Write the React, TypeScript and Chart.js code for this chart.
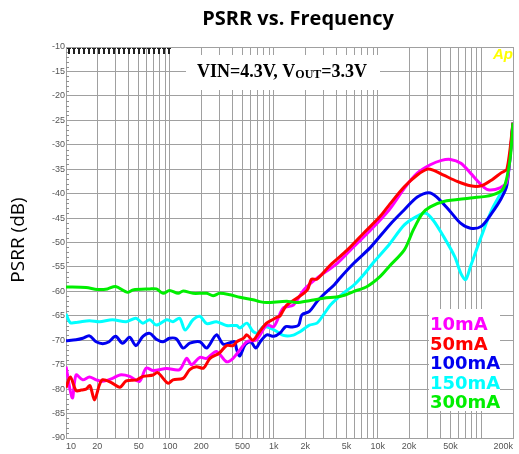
import React, { useEffect, useRef } from 'react';
import { Chart, registerables } from 'chart.js';

Chart.register(...registerables);

// ---------- Data ----------
const TITLE = 'PSRR vs. Frequency';
const Y_TITLE = 'PSRR (dB)';

const X_LABEL_VALUES = [10, 20, 50, 100, 200, 500, 1000, 2000, 5000, 10000, 20000, 50000, 200000];
const X_LABELS = ['10', '20', '50', '100', '200', '500', '1k', '2k', '5k', '10k', '20k', '50k', '200k'];

const SERIES_NAMES = ['10mA', '50mA', '100mA', '150mA', '300mA'];
const SERIES_COLORS = ['#ff00ff', '#ff0000', '#0000f0', '#00ffff', '#00ee00'];

const MAG_F = [10, 11.5, 12.5, 14.5, 16.8, 19.5, 22.6, 28, 33, 41, 51, 59, 69, 93, 124, 145, 161, 194, 226, 280, 350, 405, 470, 550, 680, 855, 1000, 1230, 1540, 1940, 2600, 4100, 5900, 8500, 13000, 18000, 24000, 32000, 41000, 50000, 63000, 78000, 99000, 115000, 150000, 175000, 200000];
const MAG_V = [-75.4, -81.8, -77.1, -78.1, -77.5, -78.1, -78.4, -77.8, -77.1, -77.4, -78.4, -75.7, -76.2, -75.8, -76.0, -73.7, -75.0, -73.5, -73.7, -72.3, -74.4, -73.7, -72.0, -70.3, -69.9, -66.9, -67.2, -63.4, -62.8, -59.7, -57.3, -54.2, -50.8, -47.5, -43.2, -38.9, -35.8, -34.1, -33.2, -33.0, -33.8, -35.8, -38.2, -39.2, -38.8, -37.5, -25.5];

const RED_F = [10, 11, 12.5, 14, 15.6, 17, 18.8, 21, 22.5, 27, 33, 38, 48, 55, 69, 76, 96, 107, 134, 155, 180, 210, 243, 300, 350, 405, 440, 510, 550, 630, 730, 850, 990, 1070, 1150, 1200, 1330, 1660, 2100, 2300, 2600, 3500, 5100, 7300, 10500, 13000, 18000, 24000, 30000, 34000, 43000, 58000, 78000, 99000, 125000, 155000, 175000, 200000];
const RED_V = [-79.7, -77.5, -80.3, -80.2, -80.0, -79.3, -82.2, -79.1, -78.1, -78.6, -79.6, -78.3, -78.1, -77.4, -77.1, -76.6, -78.8, -78.1, -77.8, -76.0, -75.4, -75.7, -73.7, -72.6, -71.1, -71.1, -70.3, -69.6, -68.9, -70.0, -68.2, -66.5, -65.7, -65.3, -65.0, -64.3, -62.8, -61.4, -59.7, -57.5, -57.5, -54.6, -51.5, -48.1, -44.7, -42.2, -38.6, -36.2, -35.0, -35.2, -36.2, -37.5, -38.4, -38.4, -37.2, -35.7, -35.0, -25.5];

const BLUE_F = [10, 12.5, 14.5, 16.8, 19.5, 22.6, 26, 30, 35, 41, 47, 55, 64, 74, 86, 99, 115, 134, 155, 194, 226, 280, 325, 380, 420, 440, 470, 530, 600, 670, 740, 855, 1000, 1150, 1300, 1500, 1730, 1860, 2200, 2600, 3000, 3800, 4400, 5900, 8500, 13000, 18000, 24000, 31000, 37000, 50000, 63000, 78000, 99000, 125000, 155000, 175000, 200000];
const BLUE_V = [-70.1, -69.9, -69.6, -69.1, -70.3, -70.7, -70.3, -69.2, -70.6, -69.4, -71.1, -69.2, -68.6, -69.8, -70.3, -69.6, -69.7, -71.6, -70.6, -70.3, -71.6, -68.9, -70.8, -70.5, -70.3, -72.0, -73.2, -70.9, -70.3, -71.6, -70.3, -68.9, -69.2, -68.5, -67.2, -67.3, -66.9, -64.8, -64.1, -62.1, -60.7, -58.7, -57.1, -54.2, -51.0, -46.4, -43.3, -40.7, -39.8, -40.7, -43.7, -46.1, -47.1, -46.7, -44.0, -40.9, -38.2, -25.5];

const CYAN_F = [10, 11, 13, 16.8, 21, 28, 38, 47, 55, 64, 74, 93, 107, 124, 140, 167, 194, 226, 280, 350, 440, 470, 550, 630, 700, 790, 920, 1070, 1230, 1500, 1800, 2000, 2200, 2600, 3000, 3500, 4100, 4900, 5900, 7300, 9000, 13000, 18000, 24000, 29000, 34000, 43000, 55000, 63000, 70000, 78000, 99000, 125000, 155000, 175000, 200000];
const CYAN_V = [-64.6, -66.4, -66.3, -66.0, -66.2, -65.8, -66.2, -65.5, -66.5, -65.8, -66.9, -65.8, -66.2, -65.5, -67.9, -65.8, -65.1, -66.6, -66.2, -67.0, -67.0, -67.5, -66.5, -68.2, -68.5, -67.2, -67.5, -68.2, -69.0, -69.0, -68.2, -67.5, -66.9, -66.5, -64.8, -62.8, -61.4, -60.0, -58.7, -56.6, -54.2, -50.3, -46.4, -44.6, -44.0, -45.4, -48.8, -52.9, -56.3, -57.6, -54.9, -48.8, -43.3, -39.6, -37.2, -26.0];

const GREEN_F = [10, 15.6, 20, 25, 30, 39, 44, 64, 74, 86, 99, 120, 134, 167, 226, 260, 300, 380, 470, 630, 730, 855, 1330, 1660, 2200, 3000, 4400, 5900, 7900, 10500, 13000, 18000, 22000, 27000, 32000, 43000, 78000, 125000, 162000, 187000, 200000];
const GREEN_V = [-59.1, -59.2, -59.6, -59.5, -59.0, -60.2, -59.7, -59.5, -59.5, -60.4, -59.8, -60.4, -59.9, -60.4, -60.4, -60.9, -60.4, -60.7, -61.2, -61.7, -62.1, -62.3, -62.0, -62.3, -61.9, -61.4, -61.0, -60.0, -59.0, -57.0, -54.8, -51.5, -47.4, -44.0, -42.7, -41.6, -40.9, -40.3, -38.9, -33.1, -25.5];

const Y_MIN = -90;
const Y_MAX = -10;
const X_MIN = 10;
const X_MAX = 200000;

function pts(f: number[], v: number[]) {
  return f.map((x, i) => ({ x, y: v[i] }));
}

function gridValues(): number[] {
  const out: number[] = [];
  for (let d = 10; d <= X_MAX; d *= 10) {
    for (let m = 1; m <= 9; m++) {
      const v = m * d;
      if (v >= X_MIN && v <= X_MAX) out.push(v);
    }
  }
  return out;
}

const decor = {
  id: 'decor',
  beforeDatasetsDraw(chart: any) {
    const ctx = chart.ctx;
    const area = chart.chartArea;
    const ys = chart.scales.y;
    ctx.save();
    // white boxes (annotation + legend) covering grid
    ctx.fillStyle = '#ffffff';
    ctx.fillRect(186, 55, 194, 35);
    ctx.fillRect(429, 309, 71, 102);
    // minor y ticks
    ctx.strokeStyle = '#909090';
    ctx.lineWidth = 1;
    for (let v = Y_MIN + 1; v < Y_MAX; v++) {
      if (v % 5 === 0) continue;
      const py = Math.round(ys.getPixelForValue(v)) + 0.5;
      ctx.beginPath();
      ctx.moveTo(area.left, py);
      ctx.lineTo(area.left + 3, py);
      ctx.stroke();
    }
    // dark tick stubs along the top-left edge
    ctx.fillStyle = '#222';
    const stubEnd = chart.scales.x.getPixelForValue(100);
    for (let px = area.left + 2; px <= stubEnd; px += 5) {
      ctx.fillRect(Math.round(px), area.top + 1, 2, 6);
      ctx.fillRect(Math.round(px) - 1, area.top + 1, 4, 1);
    }
    ctx.restore();
  },
  afterDraw(chart: any) {
    const ctx = chart.ctx;
    ctx.save();
    ctx.fillStyle = '#000';
    // title
    ctx.font = 'bold 20px "Open Sans"';
    ctx.textAlign = 'center';
    ctx.textBaseline = 'alphabetic';
    ctx.fillText(TITLE, 298, 25);
    // y title
    ctx.save();
    ctx.translate(24, 240);
    ctx.rotate(-Math.PI / 2);
    ctx.font = '19px "Open Sans"';
    ctx.textAlign = 'center';
    ctx.fillText(Y_TITLE, 0, 0);
    ctx.restore();
    // annotation
    const parts: [string, number, number][] = [
      ['VIN=4.3V, V', 18, 0],
      ['OUT', 12, 1],
      ['=3.3V', 18, 0],
    ];
    let total = 0;
    for (const [t, s] of parts) {
      ctx.font = `bold ${s}px "Liberation Serif"`;
      total += ctx.measureText(t).width;
    }
    let x = 282 - total / 2;
    ctx.textAlign = 'left';
    for (const [t, s, dy] of parts) {
      ctx.font = `bold ${s}px "Liberation Serif"`;
      ctx.fillText(t, x, 77 + dy);
      x += ctx.measureText(t).width;
    }
    // Ap
    ctx.fillStyle = '#ffff00';
    ctx.font = 'italic bold 15px "Liberation Sans"';
    ctx.fillText('Ap', 493, 59);
    // legend
    ctx.font = 'bold 18px "DejaVu Sans"';
    SERIES_NAMES.forEach((n, i) => {
      ctx.fillStyle = SERIES_COLORS[i];
      ctx.fillText(n, 430, 330 + i * 19.5);
    });
    ctx.restore();
  },
};

export default function App() {
  const ref = useRef<HTMLCanvasElement | null>(null);
  useEffect(() => {
    if (!ref.current) return;
    const grid = gridValues();
    const mk = (f: number[], v: number[], i: number) => ({
      label: SERIES_NAMES[i],
      data: pts(f, v),
      borderColor: SERIES_COLORS[i],
      backgroundColor: SERIES_COLORS[i],
      borderWidth: 3,
      pointRadius: 0,
      tension: 0.3,
      fill: false,
    });
    const chart = new Chart(ref.current, {
      type: 'line',
      data: {
        datasets: [
          mk(GREEN_F, GREEN_V, 4),
          mk(RED_F, RED_V, 1),
          mk(MAG_F, MAG_V, 0),
          mk(BLUE_F, BLUE_V, 2),
          mk(CYAN_F, CYAN_V, 3),
        ],
      },
      options: {
        animation: false,
        responsive: true,
        maintainAspectRatio: false,
        layout: { padding: { top: 47, right: 6, bottom: 0, left: 0 } },
        plugins: {
          legend: { display: false },
          title: { display: false },
          tooltip: { enabled: false },
        },
        scales: {
          x: {
            type: 'logarithmic',
            min: X_MIN,
            max: X_MAX,
            afterBuildTicks: (s: any) => {
              s.ticks = grid.map((v) => ({ value: v }));
            },
            afterFit: (s: any) => {
              s.height = 16;
            },
            ticks: {
              autoSkip: false,
              maxRotation: 0,
              minRotation: 0,
              align: 'inner',
              padding: 3,
              color: '#555',
              font: { size: 9, family: '"Liberation Sans"' },
              callback: (value: any) => {
                const idx = X_LABEL_VALUES.findIndex((v) => Math.abs(v - Number(value)) < 1e-6 * v);
                return idx >= 0 ? X_LABELS[idx] : '';
              },
            },
            grid: { color: '#a0a0a0', lineWidth: 1, drawTicks: false },
            border: { color: '#a0a0a0' },
          },
          y: {
            type: 'linear',
            min: Y_MIN,
            max: Y_MAX,
            afterFit: (s: any) => {
              s.width = 66;
            },
            ticks: {
              stepSize: 5,
              padding: 1,
              color: '#555',
              font: { size: 9, family: '"Liberation Sans"' },
            },
            grid: { color: '#a0a0a0', lineWidth: 1, drawTicks: false },
            border: { color: '#a0a0a0' },
          },
        },
      },
      plugins: [decor],
    } as any);
    return () => chart.destroy();
  }, []);
  return (
    <div style={{ position: 'fixed', left: 0, top: 0, width: 519, height: 454, background: '#fff' }}>
      <canvas ref={ref} />
    </div>
  );
}
